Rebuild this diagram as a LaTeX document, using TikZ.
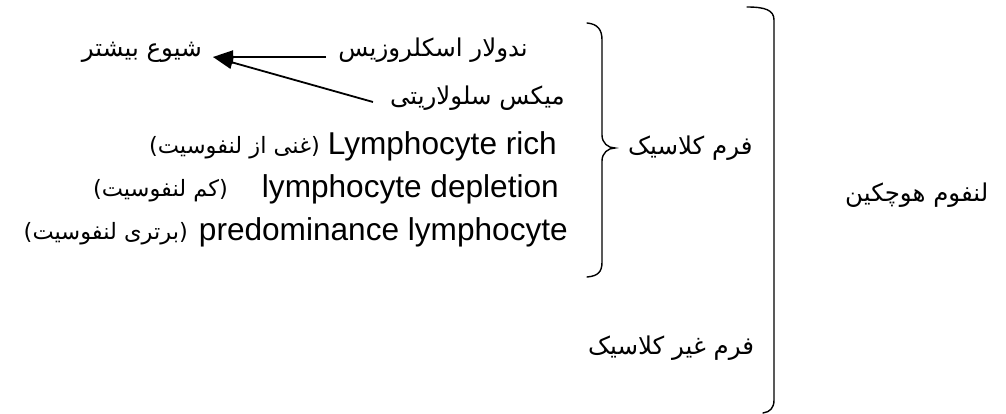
\documentclass[tikz,border=0pt]{standalone}
\usepackage{fontspec}
\setmainfont{Liberation Sans}
\newfontfamily\fa[Script=Arabic]{DejaVu Sans}
\TeXXeTstate=1
\usetikzlibrary{arrows.meta}
\tikzset{
  en/.style={font=\fontsize{31.6}{36}\selectfont, inner sep=0pt, text height=23pt, text depth=8pt},
  fabig/.style={font=\fa\fontsize{24.5}{29}\selectfont, inner sep=0pt, text height=22pt, text depth=8pt},
  fasmall/.style={font=\fa\fontsize{22.5}{27}\selectfont, inner sep=0pt, text height=20pt, text depth=7pt},
  arr/.style={line width=1.8pt, -{Triangle[length=20pt,width=13pt]}},
  brace/.style={line width=1.4pt, line cap=round},
}
\begin{document}
\begin{tikzpicture}[x=1pt,y=-1pt]
\useasboundingbox (0,0) rectangle (1006,414);
% texts
\node[fabig, anchor=east] (nod) at (528,50) {\beginR ندولار اسکلروزیس\endR};
\node[fabig, anchor=east] (shyu) at (202,50) {\beginR شیوع بیشتر\endR};
\node[fabig, anchor=east] (mix) at (565,98) {\beginR میکس سلولاریتی\endR};
\node[en, anchor=east] (lrich) at (557,147) {Lymphocyte rich};
\node[fasmall, anchor=east] (lrichfa) at (320,147) {\beginR(غنی از لنفوسیت)\endR};
\node[en, anchor=east] (ldep) at (559,190) {lymphocyte depletion};
\node[fasmall, anchor=east] (ldepfa) at (228,190) {\beginR(کم لنفوسیت)\endR};
\node[fasmall, anchor=east] (lprefa) at (188,233) {\beginR(برتری لنفوسیت)\endR};
\node[en, anchor=east] (lpre) at (568,233) {predominance lymphocyte};
\node[fabig, anchor=west] (classic) at (628,148) {\beginR فرم کلاسیک\endR};
\node[fabig, anchor=west] (nonclassic) at (588,347) {\beginR فرم غیر کلاسیک\endR};
\node[fabig, anchor=west] (hodgkin) at (845,195) {\beginR لنفوم هوچکین\endR};
% arrows
\coordinate (tip) at (213,57);
\coordinate (a1) at (326,57);
\coordinate (a2) at (373,102);
\draw[arr] (a1) -- (tip);
\draw[arr] (a2) -- (tip);
% small brace
\draw[brace] (587,23) .. controls (598,24) and (602,30) .. (602,40) -- (602,135)
  .. controls (602,143) and (608,148) .. (615,148)
  .. controls (608,148) and (602,153) .. (602,161) -- (602,262)
  .. controls (602,272) and (598,276) .. (587,277);
% big bracket
\draw[brace] (747,7) .. controls (765,7) and (774,10) .. (774,20) -- (774,400)
  .. controls (774,408) and (770,412) .. (763,413);
\end{tikzpicture}
\end{document}
